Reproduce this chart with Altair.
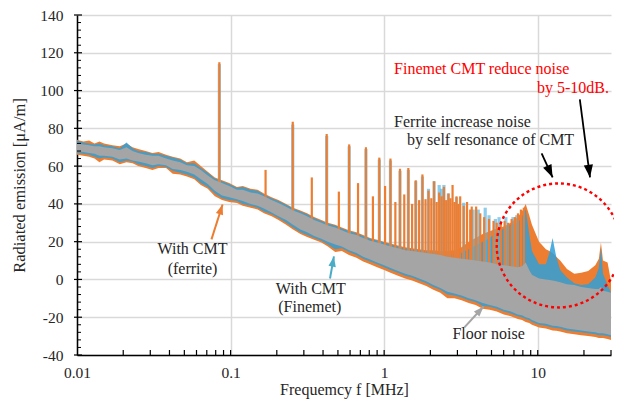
import altair as alt
import pandas as pd
import numpy as np

# ---------------- data ----------------
FREQ = [0.010, 0.011, 0.012, 0.013, 0.014, 0.015, 0.017, 0.019,
        0.021, 0.023, 0.025, 0.028,
        0.031, 0.034, 0.038, 0.042, 0.047,
        0.052, 0.058, 0.064, 0.071, 0.079,
        0.088, 0.098, 0.11, 0.12, 0.135,
        0.15, 0.165, 0.185, 0.205, 0.23,
        0.255, 0.285, 0.315, 0.35, 0.39,
        0.43, 0.48, 0.53, 0.59, 0.66,
        0.73, 0.81, 0.9, 1.0, 1.1,
        1.23, 1.37, 1.52, 1.69, 1.88,
        2.09, 2.32, 2.58, 2.87, 3.19,
        3.55, 3.94, 4.38, 4.87, 5.41,
        6.01, 6.68, 7.42, 7.9, 8.35,
        8.8, 9.17, 10.2, 11.3, 11.9, 12.5, 13.2,
        14.0, 15.5, 17.3, 19.2, 21.3,
        23.7, 25.0, 25.8, 26.6, 28.5,
        30.0]

FERRITE_LO = [66, 65.5, 65, 64, 62, 63.5, 63, 61,
              62, 61.5, 60, 59,
              58, 59, 59, 56, 55.5,
              54.5, 53, 50, 48, 44,
              42, 41, 40.5, 39, 38,
              37, 35, 33.5, 31.5, 29,
              26.5, 24, 22.5, 21, 19.5,
              17.5, 14.5, 15, 13, 11.5,
              9.5, 8, 6.5, 5, 3.5,
              2, 0.5, -0.5, -2, -3.5,
              -5.5, -7, -10, -10, -11,
              -12.5, -13.5, -15.5, -16, -17,
              -18.5, -19.5, -21, -21.5, -22.5,
              -23, -24, -25.5, -26, -26.5, -27, -27.2,
              -27.5, -28.5, -29, -29.5, -30,
              -30.5, -31, -31, -31, -31.5,
              -32]
FERRITE_HI = [74, 73, 73.5, 72, 73, 72, 71, 70.5,
              72, 70, 69, 68,
              67, 67.5, 66, 65, 64,
              62, 63, 60, 57, 54,
              52.5, 51, 49, 49.5, 48,
              47.5, 45.5, 43.5, 42, 40,
              38, 36.5, 35, 33, 31.5,
              30, 29, 27.5, 26, 25,
              23.5, 22, 21, 20, 19,
              18, 17, 16.5, 16, 15.5,
              15.5, 15, 15, 15.5, 17,
              20, 22, 24, 25.5, 27,
              28, 30, 33, 36, 40,
              34, 29, 20, 16, 15, 14, 12,
              10, 5.5, 3, 3.5, 4.5,
              7.5, 11, 19.5, 10, 9,
              -1]
FINEMET_LO = [67, 66.5, 66, 65, 64, 64.5, 64, 62,
              63, 62.5, 61, 60,
              59, 60, 59.5, 57.5, 56.5,
              55.5, 54, 51, 49, 45.5,
              43, 42, 41.5, 40, 39,
              38, 36, 34.5, 32.5, 30,
              27.5, 25, 23.5, 22, 20.5,
              18.5, 16, 16.5, 14.5, 13,
              11, 9.5, 8, 6.5, 5,
              3.5, 2, 1, -0.5, -2,
              -4, -5.5, -8, -8.5, -9.5,
              -11, -12, -14, -14.5, -15.5,
              -17, -18, -19.5, -20, -21,
              -21.5, -22.5, -24, -24.5, -25, -25.5, -25.7,
              -26, -27, -27.5, -28, -28.5,
              -29, -29.5, -29.5, -29.5, -30,
              -30.5]
FINEMET_HI = [73.5, 72.5, 72, 71.5, 72, 71, 70.5, 69.5,
              72.5, 69.5, 68, 67.5,
              66.5, 66.5, 65.5, 64.5, 63.5,
              61.5, 61.5, 59, 56.5, 53.5,
              52, 50.5, 48.5, 49, 47.5,
              47, 45, 43, 41.5, 39.5,
              37.5, 36, 34.5, 32.5, 31,
              29.5, 28.5, 27, 25.5, 24.5,
              23, 21.5, 20.5, 19.5, 18.5,
              17.5, 16.5, 16, 15.5, 15,
              14.5, 14, 13.5, 13.5, 14,
              16, 18, 20, 22, 25,
              27, 29, 30, 33, 37,
              24, 15, 8, 8, 14, 22, 12,
              5, 1, -2, -3, -2.5,
              1, 6, 17, 3, -3,
              -7]
FLOOR_LO = [68, 67.5, 67, 66.5, 65.5, 65.5, 65, 63.5,
            64, 63, 62.5, 61.5,
            60.5, 61, 60.5, 58.5, 58,
            57, 55.5, 53, 50.5, 47,
            44.5, 43.5, 42.5, 41.5, 40,
            39, 37.5, 35.5, 33.5, 31.5,
            29, 26.5, 25, 23, 21.5,
            20, 18.5, 17.5, 15.5, 14,
            12, 10.5, 9, 7.5, 6,
            4.5, 3, 2, 0.5, -1,
            -3, -4.5, -6.5, -7.5, -8.5,
            -10, -11, -12.5, -13.5, -14.5,
            -16, -17, -18.5, -19, -20,
            -20.5, -21.5, -23, -23.5, -24, -24.5, -24.7,
            -25, -26, -26.5, -27, -27.5,
            -28, -28.5, -28.5, -28.5, -29,
            -29.5]
FLOOR_HI = [72, 71.5, 71, 70.5, 70.5, 70, 69.5, 68.5,
            70, 68, 67, 66,
            65.5, 65.5, 64, 63, 62,
            60.5, 60, 58, 55, 52.5,
            51, 49.5, 47.5, 47.5, 46,
            45.5, 44, 42, 40.5, 38.5,
            36.5, 35, 33.5, 31.5, 30,
            28.5, 27.5, 26, 24.5, 23.5,
            22, 20.5, 19.5, 18.5, 17.5,
            16.5, 15.5, 15, 14.5, 14,
            13.5, 13, 12, 11.5, 11,
            10.5, 10, 9.5, 9, 8,
            7.5, 7, 6.5, 7, 9,
            5, 2.5, 0.5, 0, -0.3, -0.5, -1,
            -1.5, -2.5, -3, -4, -4.5,
            -5, -5, -4, -6, -6.5,
            -7]

SPIKE_F = [0.0845, 0.169, 0.254, 0.338, 0.4225, 0.507, 0.592, 0.676, 0.761, 0.845,
           0.930, 1.014, 1.099, 1.183, 1.268, 1.352, 1.437, 1.521, 1.606, 1.690,
           1.775, 1.859, 1.944, 2.028, 2.113, 2.197, 2.282, 2.366, 2.451, 2.535,
           2.620, 2.704, 2.789, 2.873, 2.958, 3.042, 3.127, 3.296, 3.465, 3.634,
           3.718, 3.972, 4.225, 4.479, 4.817, 5.155, 5.408, 5.746, 6.084, 6.422,
           6.760, 7.099, 7.437, 7.775, 8.113]
SPIKE_TOP = [115, 58, 83.5, 54, 77, 46.5, 71.5, 51, 70, 44,
             64.5, 49.5, 64, 41, 58.6, 45, 59, 40, 52.5, 42,
             55.6, 42.5, 47, 43, 52, 41, 46, 44, 49, 42,
             45.5, 43, 50, 41, 44, 40, 44, 39, 41, 37,
             38.6, 38.6, 35, 33, 32, 31, 30, 30.5, 31, 30,
             32, 33, 35, 37, 38]

BLUE_SPIKE_F = [0.0845, 0.254, 0.4225, 0.592, 0.761, 0.930, 1.099, 1.268, 1.437, 1.606,
                1.775, 1.944, 2.113, 2.282, 2.366, 2.451, 2.620, 2.958, 3.296, 3.80,
                4.10, 4.55, 4.817, 5.30, 5.6, 6.2, 6.9, 7.3]
BLUE_SPIKE_TOP = [114, 82, 76, 70.5, 69, 63.5, 63, 57.5, 58, 52,
                  54.5, 48, 52, 50, 48, 50, 45.5, 43.5, 40.6, 37,
                  37, 38, 34, 32, 33, 33, 33, 34]

X_TICKS = [0.01, 0.1, 1, 10]
Y_TICKS = [-40, -20, 0, 20, 40, 60, 80, 100, 120, 140]
X_MINOR = [0.02, 0.03, 0.04, 0.05, 0.06, 0.07, 0.08, 0.09, 0.1,
           0.2, 0.3, 0.4, 0.5, 0.6, 0.7, 0.8, 0.9, 1,
           2, 3, 4, 5, 6, 7, 8, 9, 10, 20, 30]
Y_MINOR = [v for v in range(-40, 141, 4) if v % 20 != 0]

# annotations (data coordinates)
ARROW_TAIL_F = [0.0751, 0.444, 3.33, 10.6, 18.8]
ARROW_TAIL_V = [21.2, 0.5, -25.4, 66.7, 95.3]
ARROW_TIP_F = [0.0887, 0.471, 4.44, 12.5, 21.9]
ARROW_TIP_V = [39.7, 12.2, -14.3, 54, 54]

LEFT_TEXT = ["Finemet CMT reduce noise", "Ferrite increase noise", "by self resonance of CMT"]
LEFT_F = [1.16, 1.16, 1.41]
LEFT_V = [111.2, 83.6, 73.6]
RIGHT_TEXT = ["by 5-10dB."]
RIGHT_F = [29.1]
RIGHT_V = [101.1]
CENTER_TEXT = ["With CMT", "(ferrite)", "With CMT", "(Finemet)", "Floor noise"]
CENTER_F = [0.0565, 0.0565, 0.333, 0.328, 4.79]
CENTER_V = [15.9, 5.3, -5.3, -14.8, -29.1]
CIRCLE_F = [13.7]
CIRCLE_V = [18]

for arr_ in (FERRITE_LO, FERRITE_HI, FINEMET_LO, FINEMET_HI, FLOOR_LO, FLOOR_HI):
    assert len(arr_) == len(FREQ), (len(arr_), len(FREQ))

# ---------------- styling ----------------
ORANGE = "#ED7D31"
BLUE = "#2E9FD8"
GREY = "#A5A5A5"
FONT = "Liberation Serif"
TXT = "#262626"
W, H = 534, 340
XMIN, XMAX, YMIN, YMAX = 0.01, 30, -40, 140

xscale = alt.Scale(type="log", domain=[XMIN, XMAX], nice=False)
yscale = alt.Scale(domain=[YMIN, YMAX], nice=False)
xaxis = alt.Axis(values=X_TICKS, labelExpr="'' + datum.value", title="Frequemcy f [MHz]",
                 grid=True, gridColor="#d9d9d9", gridWidth=1.5, ticks=False,
                 domainColor="#000000", domainWidth=1.5,
                 labelFont=FONT, labelFontSize=15.5, labelColor=TXT, labelPadding=10,
                 labelFlush=False, labelOverlap=False,
                 titleFont=FONT, titleFontSize=16, titleFontWeight="normal",
                 titleColor=TXT, titlePadding=1)
yaxis = alt.Axis(values=Y_TICKS, labelExpr="'' + datum.value", title="Radiated emission [μA/m]",
                 grid=True, gridColor="#d9d9d9", gridWidth=1.5, ticks=False,
                 domainColor="#000000", domainWidth=1.5,
                 labelFont=FONT, labelFontSize=15.5, labelColor=TXT, labelPadding=14,
                 labelFlush=False,
                 titleFont=FONT, titleFontSize=16.5, titleFontWeight="normal",
                 titleColor=TXT, titlePadding=12)


def X(field="f"):
    return alt.X(f"{field}:Q", scale=xscale, axis=xaxis)


def Y(field="v"):
    return alt.Y(f"{field}:Q", scale=yscale, axis=yaxis)


def band(lo, hi):
    return pd.DataFrame({"f": FREQ, "v": hi, "lo": lo})


ferrite = alt.Chart(band(FERRITE_LO, FERRITE_HI)).mark_area(color=ORANGE, opacity=1).encode(
    x=X(), y=Y(), y2="lo:Q")
finemet = alt.Chart(band(FINEMET_LO, FINEMET_HI)).mark_area(color=BLUE, opacity=0.85).encode(
    x=X(), y=Y(), y2="lo:Q")
floor = alt.Chart(band(FLOOR_LO, FLOOR_HI)).mark_area(color=GREY, opacity=1).encode(
    x=X(), y=Y(), y2="lo:Q")

logF = np.log10(FREQ)
sp = pd.DataFrame({"f": SPIKE_F, "v": SPIKE_TOP,
                   "lo": np.interp(np.log10(SPIKE_F), logF, FLOOR_HI) - 2})
bsp = pd.DataFrame({"f": BLUE_SPIKE_F, "v": BLUE_SPIKE_TOP,
                    "lo": np.interp(np.log10(BLUE_SPIKE_F), logF, FLOOR_HI) - 2})
blue_spikes = alt.Chart(bsp).mark_rule(color="#5DB8E2", strokeWidth=3.2, opacity=0.7).encode(
    x=X(), y=Y(), y2="lo:Q")
orange_spikes = alt.Chart(sp).mark_rule(color=ORANGE, strokeWidth=2.2).encode(
    x=X(), y=Y(), y2="lo:Q")

# ticks (inside)
xt = alt.Chart(pd.DataFrame({"f": X_MINOR})).mark_rule(color="#000000", strokeWidth=1.2).encode(
    x=X(), y=alt.value(H), y2=alt.value(H - 5))
ytmin = alt.Chart(pd.DataFrame({"v": Y_MINOR})).mark_rule(color="#000000", strokeWidth=1).encode(
    y=Y(), x=alt.value(0), x2=alt.value(4))
ytmaj = alt.Chart(pd.DataFrame({"v": Y_TICKS})).mark_rule(color="#000000", strokeWidth=1.2).encode(
    y=Y(), x=alt.value(-3), x2=alt.value(5))


# arrows
def px(f):
    return W * np.log10(f / XMIN) / np.log10(XMAX / XMIN)


def py(v):
    return H * (YMAX - v) / (YMAX - YMIN)


ang = []
for tf, tv, hf, hv in zip(ARROW_TAIL_F, ARROW_TAIL_V, ARROW_TIP_F, ARROW_TIP_V):
    dx = px(hf) - px(tf)
    dy = py(hv) - py(tv)
    ang.append(float(np.degrees(np.arctan2(dx, -dy)) % 360))

ARROW_COL = [ORANGE, "#4BACC6", GREY, "#000000", "#000000"]
arr = pd.DataFrame({"f": ARROW_TAIL_F, "v": ARROW_TAIL_V, "f2": ARROW_TIP_F, "v2": ARROW_TIP_V,
                    "c": ARROW_COL, "w": [2, 2, 2, 1.8, 1.8]})
shafts = alt.Chart(arr).mark_rule().encode(
    x=X(), y=Y(), x2="f2:Q", y2="v2:Q",
    color=alt.Color("c:N", scale=None), strokeWidth=alt.StrokeWidth("w:Q", scale=None))
heads_df = pd.DataFrame({"f": ARROW_TIP_F, "v": ARROW_TIP_V, "ang": ang,
                         "c": ARROW_COL, "s": [130, 130, 130, 200, 200]})
heads = alt.Chart(heads_df).mark_point(shape="M0,0L-0.65,1.8L0.65,1.8Z", filled=True,
                                       opacity=1, strokeWidth=0).encode(
    x=X(), y=Y(), angle=alt.Angle("ang:Q", scale=None),
    color=alt.Color("c:N", scale=None), size=alt.Size("s:Q", scale=None))

# texts
left_df = pd.DataFrame({"f": LEFT_F, "v": LEFT_V, "t": LEFT_TEXT, "c": ["#FF0000", TXT, TXT]})
left_txt = alt.Chart(left_df).mark_text(align="left", baseline="middle", font=FONT, fontSize=16).encode(
    x=X(), y=Y(), text="t:N", color=alt.Color("c:N", scale=None))
right_df = pd.DataFrame({"f": RIGHT_F, "v": RIGHT_V, "t": RIGHT_TEXT})
right_txt = alt.Chart(right_df).mark_text(align="right", baseline="middle", font=FONT, fontSize=16,
                                          color="#FF0000").encode(x=X(), y=Y(), text="t:N")
center_df = pd.DataFrame({"f": CENTER_F, "v": CENTER_V, "t": CENTER_TEXT})
center_txt = alt.Chart(center_df).mark_text(align="center", baseline="middle", font=FONT, fontSize=16,
                                            color=TXT).encode(x=X(), y=Y(), text="t:N")

circle = alt.Chart(pd.DataFrame({"f": CIRCLE_F, "v": CIRCLE_V})).mark_point(
    shape="circle", size=15376, filled=False, opacity=1, color="#FF0000",
    strokeWidth=2.4, strokeDash=[3, 3]).encode(x=X(), y=Y())

chart = alt.layer(
    ferrite, finemet, blue_spikes, orange_spikes, floor,
    xt, ytmin, ytmaj, shafts, heads, left_txt, right_txt, center_txt, circle
).properties(
    width=W, height=H,
    padding={"left": 69, "top": 7, "right": 3, "bottom": 47},
    autosize=alt.AutoSizeParams(type="none"),
    background="white",
).configure_view(stroke=None)

chart.save("out.html", embed_options={"renderer": "svg", "actions": False})
